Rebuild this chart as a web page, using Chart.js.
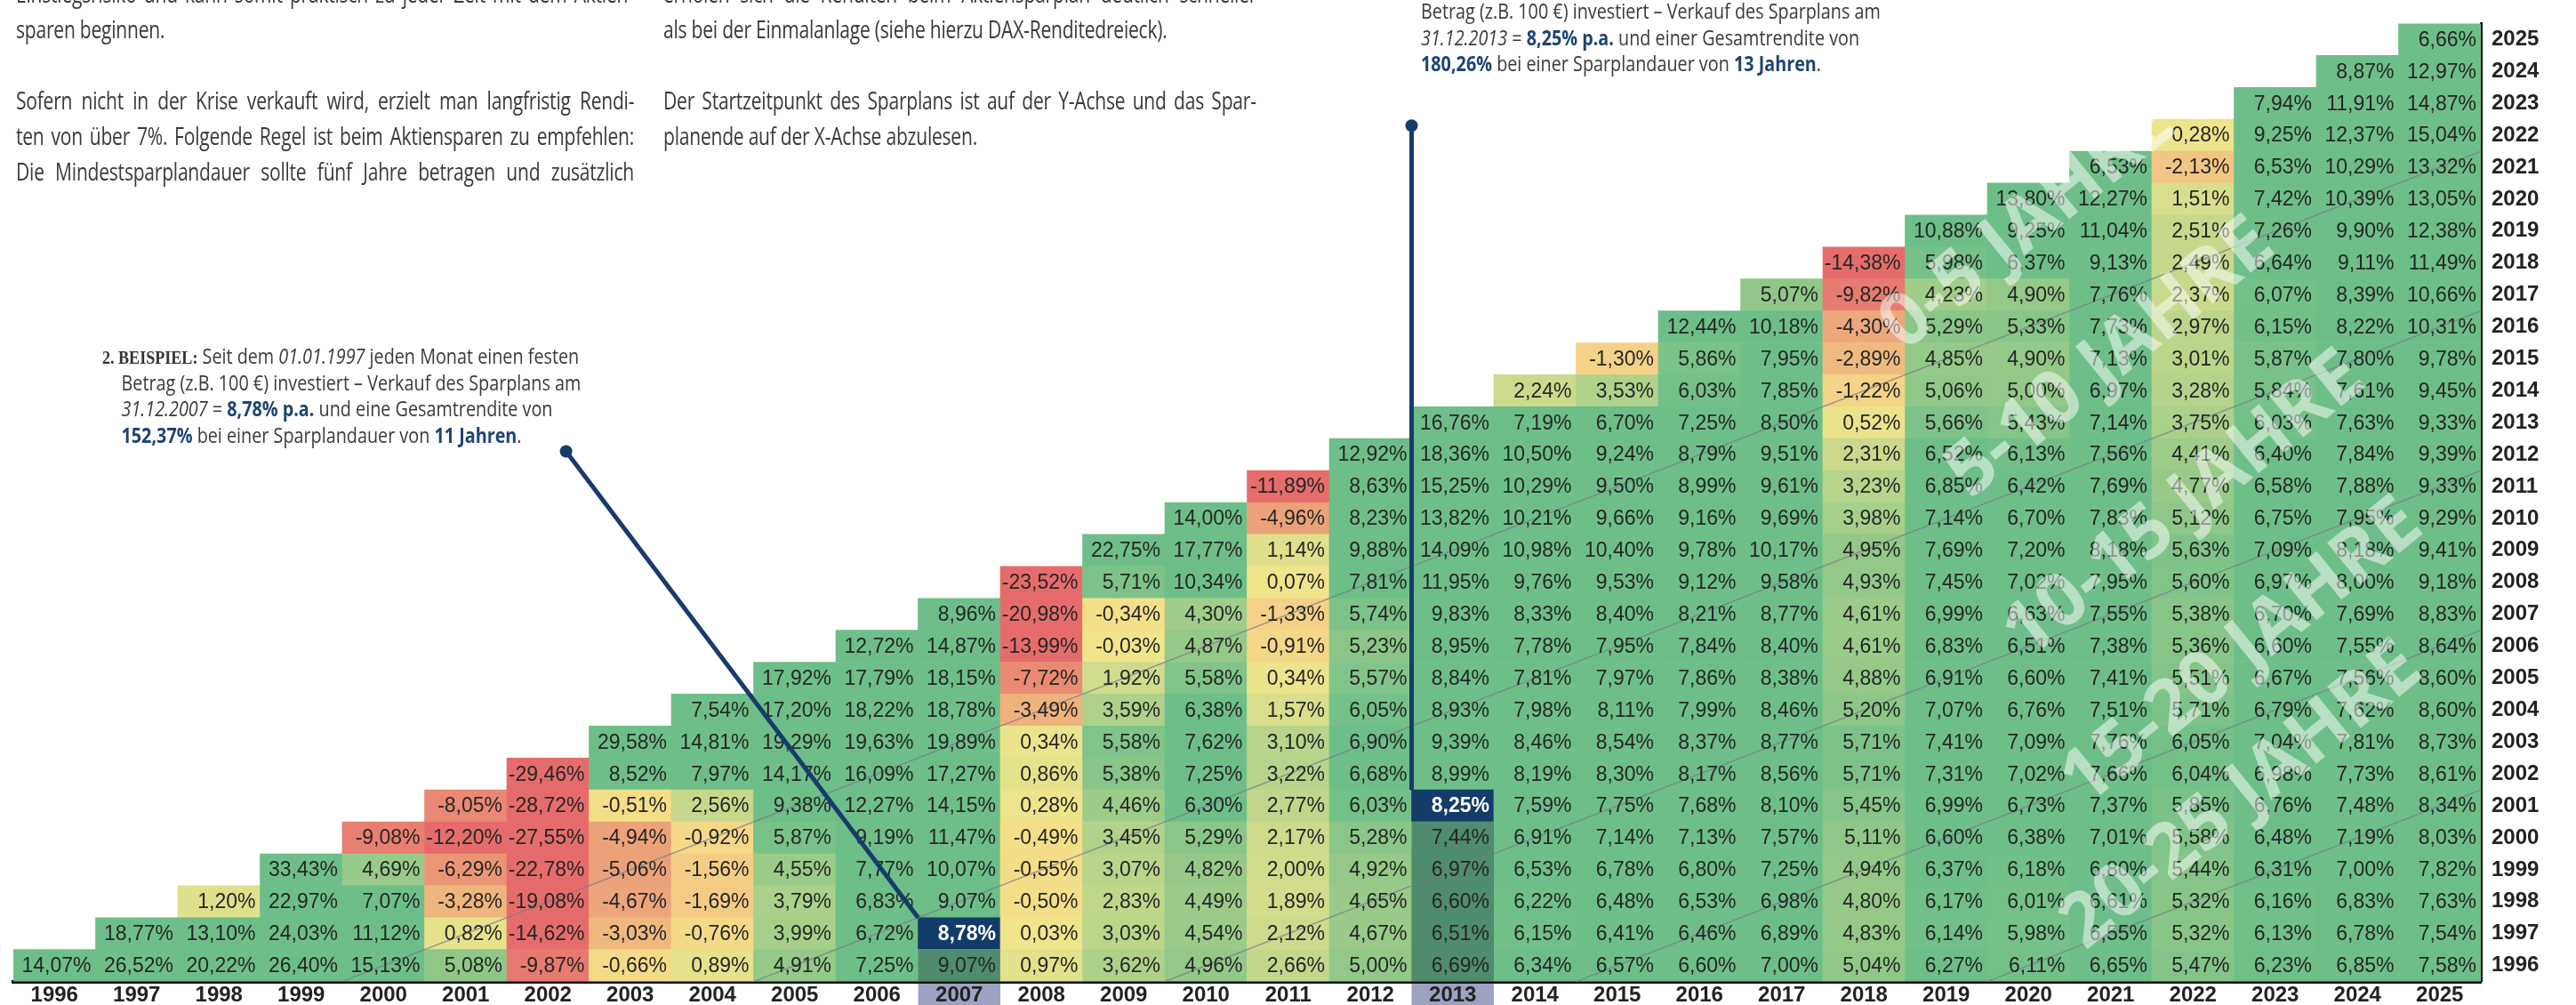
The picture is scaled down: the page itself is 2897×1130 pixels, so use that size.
<!DOCTYPE html>
<html>
<head>
<meta charset="utf-8">
<script src="https://cdn.jsdelivr.net/npm/chart.js@4.4.1/dist/chart.umd.min.js"></script>
<style>
html, body { margin: 0; padding: 0; background: #fff; }
#wrap { position: relative; width: 2897px; height: 1130px; overflow: hidden; }
#wrap canvas { position: absolute; left: 0; top: 0; }
.txt { position: absolute; font-family: "Open Sans"; color: #3a3a3a; transform-origin: 0 0; }
.txt div { height: 40px; white-space: nowrap; }
.par { letter-spacing: -0.3px; }
.note div { height: 29.5px; }
.note .ind { padding-left: 25px; }
.n { color: #1d4474; font-weight: bold; }
.serif { font-family: "Liberation Serif"; font-weight: bold; color: #333; font-size: 21px; }
</style>
</head>
<body>
<div id="wrap">
	<canvas id="myChart" width="2897" height="1130"></canvas>

	<div class="txt par" style="left:18px; top:-27px; width:891px; font-size:27px; line-height:40px; transform:scaleX(0.78)">
		<div class="j">Einstiegsrisiko und kann somit praktisch zu jeder Zeit mit dem Aktien-</div>
		<div>sparen beginnen.</div>
		<div></div>
		<div class="j">Sofern nicht in der Krise verkauft wird, erzielt man langfristig Rendi-</div>
		<div class="j">ten von über 7%. Folgende Regel ist beim Aktiensparen zu empfehlen:</div>
		<div class="j">Die Mindestsparplandauer sollte fünf Jahre betragen und zusätzlich</div>
	</div>

	<div class="txt par" style="left:746px; top:-27px; width:855px; font-size:27px; line-height:40px; transform:scaleX(0.78)">
		<div class="j">erholen sich die Renditen beim Aktiensparplan deutlich schneller</div>
		<div>als bei der Einmalanlage (siehe hierzu DAX-Renditedreieck).</div>
		<div></div>
		<div class="j">Der Startzeitpunkt des Sparplans ist auf der Y-Achse und das Spar-</div>
		<div>planende auf der X-Achse abzulesen.</div>
	</div>

	<div class="txt note" style="left:1598px; top:-2px; font-size:23px; line-height:29.5px; transform:scaleX(0.86)">
		<div>Betrag (z.B. 100 €) investiert – Verkauf des Sparplans am</div>
		<div><i>31.12.2013</i> = <span class="n">8,25% p.a.</span> und einer Gesamtrendite von</div>
		<div><span class="n">180,26%</span> bei einer Sparplandauer von <span class="n">13 Jahren</span>.</div>
	</div>

	<div class="txt note" style="left:115px; top:386px; font-size:23px; line-height:29.5px; transform:scaleX(0.86)">
		<div><span class="serif">2. BEISPIEL:</span> Seit dem <i>01.01.1997</i> jeden Monat einen festen</div>
		<div class="ind">Betrag (z.B. 100 €) investiert – Verkauf des Sparplans am</div>
		<div class="ind"><i>31.12.2007</i> = <span class="n">8,78% p.a.</span> und eine Gesamtrendite von</div>
		<div class="ind"><span class="n">152,37%</span> bei einer Sparplandauer von <span class="n">11 Jahren</span>.</div>
	</div>
</div>

<script>
// end of savings plan (x axis)
var endYears = ['1996','1997','1998','1999','2000','2001','2002','2003','2004','2005','2006','2007','2008','2009','2010',
	'2011','2012','2013','2014','2015','2016','2017','2018','2019','2020','2021','2022','2023','2024','2025']
// start of savings plan (y axis)
var startYears = [1996,1997,1998,1999,2000,2001,2002,2003,2004,2005,2006,2007,2008,2009,2010,
	2011,2012,2013,2014,2015,2016,2017,2018,2019,2020,2021,2022,2023,2024,2025]

// returns p.a. per start year, from end year = start year up to 2025
var row1996 = [14.07, 26.52, 20.22, 26.40, 15.13, 5.08, -9.87, -0.66, 0.89, 4.91, 7.25, 9.07, 0.97, 3.62, 4.96, 2.66, 5.00, 6.69, 6.34, 6.57, 6.60, 7.00, 5.04, 6.27, 6.11, 6.65, 5.47, 6.23, 6.85, 7.58]
var row1997 = [18.77, 13.10, 24.03, 11.12, 0.82, -14.62, -3.03, -0.76, 3.99, 6.72, 8.78, 0.03, 3.03, 4.54, 2.12, 4.67, 6.51, 6.15, 6.41, 6.46, 6.89, 4.83, 6.14, 5.98, 6.55, 5.32, 6.13, 6.78, 7.54]
var row1998 = [1.20, 22.97, 7.07, -3.28, -19.08, -4.67, -1.69, 3.79, 6.83, 9.07, -0.50, 2.83, 4.49, 1.89, 4.65, 6.60, 6.22, 6.48, 6.53, 6.98, 4.80, 6.17, 6.01, 6.61, 5.32, 6.16, 6.83, 7.63]
var row1999 = [33.43, 4.69, -6.29, -22.78, -5.06, -1.56, 4.55, 7.77, 10.07, -0.55, 3.07, 4.82, 2.00, 4.92, 6.97, 6.53, 6.78, 6.80, 7.25, 4.94, 6.37, 6.18, 6.80, 5.44, 6.31, 7.00, 7.82]
var row2000 = [-9.08, -12.20, -27.55, -4.94, -0.92, 5.87, 9.19, 11.47, -0.49, 3.45, 5.29, 2.17, 5.28, 7.44, 6.91, 7.14, 7.13, 7.57, 5.11, 6.60, 6.38, 7.01, 5.58, 6.48, 7.19, 8.03]
var row2001 = [-8.05, -28.72, -0.51, 2.56, 9.38, 12.27, 14.15, 0.28, 4.46, 6.30, 2.77, 6.03, 8.25, 7.59, 7.75, 7.68, 8.10, 5.45, 6.99, 6.73, 7.37, 5.85, 6.76, 7.48, 8.34]
var row2002 = [-29.46, 8.52, 7.97, 14.17, 16.09, 17.27, 0.86, 5.38, 7.25, 3.22, 6.68, 8.99, 8.19, 8.30, 8.17, 8.56, 5.71, 7.31, 7.02, 7.66, 6.04, 6.98, 7.73, 8.61]
var row2003 = [29.58, 14.81, 19.29, 19.63, 19.89, 0.34, 5.58, 7.62, 3.10, 6.90, 9.39, 8.46, 8.54, 8.37, 8.77, 5.71, 7.41, 7.09, 7.76, 6.05, 7.04, 7.81, 8.73]
var row2004 = [7.54, 17.20, 18.22, 18.78, -3.49, 3.59, 6.38, 1.57, 6.05, 8.93, 7.98, 8.11, 7.99, 8.46, 5.20, 7.07, 6.76, 7.51, 5.71, 6.79, 7.62, 8.60]
var row2005 = [17.92, 17.79, 18.15, -7.72, 1.92, 5.58, 0.34, 5.57, 8.84, 7.81, 7.97, 7.86, 8.38, 4.88, 6.91, 6.60, 7.41, 5.51, 6.67, 7.56, 8.60]
var row2006 = [12.72, 14.87, -13.99, -0.03, 4.87, -0.91, 5.23, 8.95, 7.78, 7.95, 7.84, 8.40, 4.61, 6.83, 6.51, 7.38, 5.36, 6.60, 7.55, 8.64]
var row2007 = [8.96, -20.98, -0.34, 4.30, -1.33, 5.74, 9.83, 8.33, 8.40, 8.21, 8.77, 4.61, 6.99, 6.63, 7.55, 5.38, 6.70, 7.69, 8.83]
var row2008 = [-23.52, 5.71, 10.34, 0.07, 7.81, 11.95, 9.76, 9.53, 9.12, 9.58, 4.93, 7.45, 7.02, 7.95, 5.60, 6.97, 8.00, 9.18]
var row2009 = [22.75, 17.77, 1.14, 9.88, 14.09, 10.98, 10.40, 9.78, 10.17, 4.95, 7.69, 7.20, 8.18, 5.63, 7.09, 8.18, 9.41]
var row2010 = [14.00, -4.96, 8.23, 13.82, 10.21, 9.66, 9.16, 9.69, 3.98, 7.14, 6.70, 7.83, 5.12, 6.75, 7.95, 9.29]
var row2011 = [-11.89, 8.63, 15.25, 10.29, 9.50, 8.99, 9.61, 3.23, 6.85, 6.42, 7.69, 4.77, 6.58, 7.88, 9.33]
var row2012 = [12.92, 18.36, 10.50, 9.24, 8.79, 9.51, 2.31, 6.52, 6.13, 7.56, 4.41, 6.40, 7.84, 9.39]
var row2013 = [16.76, 7.19, 6.70, 7.25, 8.50, 0.52, 5.66, 5.43, 7.14, 3.75, 6.03, 7.63, 9.33]
var row2014 = [2.24, 3.53, 6.03, 7.85, -1.22, 5.06, 5.00, 6.97, 3.28, 5.84, 7.61, 9.45]
var row2015 = [-1.30, 5.86, 7.95, -2.89, 4.85, 4.90, 7.13, 3.01, 5.87, 7.80, 9.78]
var row2016 = [12.44, 10.18, -4.30, 5.29, 5.33, 7.73, 2.97, 6.15, 8.22, 10.31]
var row2017 = [5.07, -9.82, 4.23, 4.90, 7.76, 2.37, 6.07, 8.39, 10.66]
var row2018 = [-14.38, 5.98, 6.37, 9.13, 2.49, 6.64, 9.11, 11.49]
var row2019 = [10.88, 9.25, 11.04, 2.51, 7.26, 9.90, 12.38]
var row2020 = [13.80, 12.27, 1.51, 7.42, 10.39, 13.05]
var row2021 = [6.53, -2.13, 6.53, 10.29, 13.32]
var row2022 = [0.28, 9.25, 12.37, 15.04]
var row2023 = [7.94, 11.91, 14.87]
var row2024 = [8.87, 12.97]
var row2025 = [6.66]

var rows = [row1996, row1997, row1998, row1999, row2000, row2001, row2002, row2003, row2004, row2005,
	row2006, row2007, row2008, row2009, row2010, row2011, row2012, row2013, row2014, row2015,
	row2016, row2017, row2018, row2019, row2020, row2021, row2022, row2023, row2024, row2025]

// the two worked examples
var examples = [
	{start: 1997, end: '2007', dotX: 6.22, dotY: 2012.1},
	{start: 2001, end: '2013', dotX: 16.5, dotY: 2022.3}
]
var bands = [5, 10, 15, 20, 25]
var bandLabels = [
	{text: '0-5 JAHRE', x: 24.0, y: 2019.2},
	{text: '5-10 JAHRE', x: 25.0, y: 2015.0},
	{text: '10-15 JAHRE', x: 25.9, y: 2010.4},
	{text: '15-20 JAHRE', x: 26.6, y: 2005.8},
	{text: '20-25 JAHRE', x: 26.6, y: 2001.3}
]

var stops = [
	[-12, [230, 108, 108]], [-9, [232, 128, 113]], [-6, [234, 152, 118]], [-4.5, [236, 166, 122]],
	[-3, [239, 184, 126]], [-1.5, [244, 206, 133]], [-0.5, [244, 222, 136]], [0, [241, 229, 140]],
	[1, [227, 225, 140]], [2.5, [198, 216, 140]], [3.8, [170, 208, 138]], [5, [146, 200, 136]],
	[5.8, [122, 194, 137]], [6.3, [110, 190, 137]]
]

function cellColor(v) {
	if (v <= stops[0][0]) return 'rgb(' + stops[0][1].join(',') + ')'
	for (var i = 1; i < stops.length; i++) {
		if (v <= stops[i][0]) {
			var a = stops[i - 1], b = stops[i], t = (v - a[0]) / (b[0] - a[0])
			var c = a[1].map(function(e, k){ return Math.round(e + (b[1][k] - e) * t) })
			return 'rgb(' + c.join(',') + ')'
		}
	}
	return 'rgb(' + stops[stops.length - 1][1].join(',') + ')'
}

function fmt(v) { return v.toFixed(2).replace('.', ',') + '%' }

function valueAt(si, ei) {
	var k = ei - si
	return k >= 0 ? rows[si][k] : null
}

function isExample(s, e) {
	return examples.some(function(ex){ return ex.start === s && ex.end === e })
}

// block justification like the print layout
document.querySelectorAll('.par').forEach(function(par) {
	var full = par.clientWidth
	par.querySelectorAll('.j').forEach(function(el) {
		el.innerHTML = '<span>' + el.innerHTML + '</span>'
		var w = el.firstChild.offsetWidth
		var gaps = (el.textContent.match(/ /g) || []).length
		if (gaps) el.style.wordSpacing = ((full - w) / gaps) + 'px'
	})
})

var datasets = startYears.map(function(s, si) {
	return {
		label: String(s),
		data: endYears.map(function(e, ei){ return ei >= si ? [s - 0.5, s + 0.5] : null }),
		backgroundColor: endYears.map(function(e, ei){
			var v = valueAt(si, ei)
			if (v === null) return 'transparent'
			return isExample(s, e) ? '#143c69' : cellColor(v)
		}),
		borderWidth: 0,
		grouped: false,
		barPercentage: 1,
		categoryPercentage: 1
	}
})

var labelFont = {family: 'Liberation Sans', size: 24, weight: 'bold'}

var dreieckPlugin = {
	id: 'dreieck',
	beforeDraw: function(chart) {
		var ctx = chart.ctx, x = chart.scales.x, y = chart.scales.y, area = chart.chartArea
		var cw = (area.right - area.left) / endYears.length
		var rh = Math.abs(y.getPixelForValue(1) - y.getPixelForValue(0))
		ctx.save()
		ctx.fillStyle = '#9ea2c2'
		examples.forEach(function(ex) {
			var ei = endYears.indexOf(ex.end)
			ctx.fillRect(x.getPixelForValue(ei) - cw / 2, area.bottom, cw, chart.height - area.bottom)
			ctx.fillRect(area.right, y.getPixelForValue(ex.start) - rh / 2, 86, rh)
		})
		ctx.restore()
	},
	afterDatasetsDraw: function(chart) {
		var ctx = chart.ctx, x = chart.scales.x, y = chart.scales.y, area = chart.chartArea
		var cw = (area.right - area.left) / endYears.length
		var rh = Math.abs(y.getPixelForValue(1) - y.getPixelForValue(0))
		ctx.save()

		// darkened row / column of the examples
		examples.forEach(function(ex) {
			var ei = endYears.indexOf(ex.end)
			ctx.fillStyle = 'rgba(18,36,52,0.33)'
			var x0 = x.getPixelForValue(ei + 0.5), yTop = y.getPixelForValue(ex.start + 0.5)
			ctx.fillRect(x0, yTop, area.right - x0, rh)
			var yBelow = y.getPixelForValue(ex.start - 0.5)
			ctx.fillRect(x.getPixelForValue(ei - 0.5), yBelow, cw, area.bottom - yBelow)
		})

		// duration band lines
		ctx.strokeStyle = 'rgba(120,120,140,0.75)'
		ctx.lineWidth = 1.3
		bands.forEach(function(d) {
			ctx.beginPath()
			ctx.moveTo(x.getPixelForValue(d - 1.5), y.getPixelForValue(1995.5))
			ctx.lineTo(x.getPixelForValue(29.5), y.getPixelForValue(2026.5 - d))
			ctx.stroke()
		})

		// values
		ctx.textAlign = 'right'
		ctx.textBaseline = 'middle'
		startYears.forEach(function(s, si) {
			endYears.forEach(function(e, ei) {
				var v = valueAt(si, ei)
				if (v === null) return
				var hl = isExample(s, e)
				ctx.font = (hl ? 'bold ' : '') + '23px "Liberation Sans"'
				ctx.fillStyle = hl ? '#ffffff' : '#262626'
				ctx.fillText(fmt(v), x.getPixelForValue(ei) + cw / 2 - 5, y.getPixelForValue(s) + 1)
			})
		})

		// watermark
		ctx.font = 'bold 84px "Open Sans"'
		ctx.textAlign = 'center'
		bandLabels.forEach(function(b) {
			ctx.save()
			ctx.translate(x.getPixelForValue(b.x), y.getPixelForValue(b.y))
			ctx.rotate(-39 * Math.PI / 180)
			ctx.fillStyle = 'rgba(255,255,255,0.5)'
			ctx.fillText(b.text, 0, 0)
			ctx.restore()
		})

		// pointer lines to the examples
		ctx.strokeStyle = '#173c6b'
		ctx.fillStyle = '#173c6b'
		ctx.lineWidth = 5
		examples.forEach(function(ex) {
			var ei = endYears.indexOf(ex.end)
			var px = x.getPixelForValue(ex.dotX), py = y.getPixelForValue(ex.dotY)
			ctx.beginPath()
			ctx.moveTo(px, py)
			ctx.lineTo(x.getPixelForValue(ei - 0.5), y.getPixelForValue(ex.start + 0.5))
			ctx.stroke()
			ctx.beginPath()
			ctx.arc(px, py, 7, 0, Math.PI * 2)
			ctx.fill()
		})
		ctx.restore()
	}
}

var canvasCtx = document.getElementById('myChart').getContext('2d')
var myChart = new Chart(canvasCtx, {
	type: 'bar',
	data: {labels: endYears, datasets: datasets},
	options: {
		responsive: false,
		animation: false,
		events: [],
		layout: {padding: {left: 15, top: 10, right: 0, bottom: 0}},
		plugins: {legend: {display: false}, tooltip: {enabled: false}},
		scales: {
			x: {
				type: 'category',
				grid: {display: false, drawTicks: false},
				border: {display: true, color: '#111', width: 4},
				ticks: {color: '#222', font: labelFont, padding: 1, maxRotation: 0, autoSkip: false},
				afterFit: function(s) { s.height = 25 }
			},
			y: {
				type: 'linear',
				position: 'right',
				min: 1995.5,
				max: 2025.5,
				grid: {display: false, drawTicks: false},
				border: {display: true, color: '#111', width: 3},
				afterBuildTicks: function(s) { s.ticks = startYears.map(function(v){ return {value: v} }) },
				ticks: {color: '#222', font: labelFont, padding: 12, callback: function(v) { return String(v) }},
				afterFit: function(s) { s.width = 107 }
			}
		}
	},
	plugins: [dreieckPlugin]
})
</script>
</body>
</html>
